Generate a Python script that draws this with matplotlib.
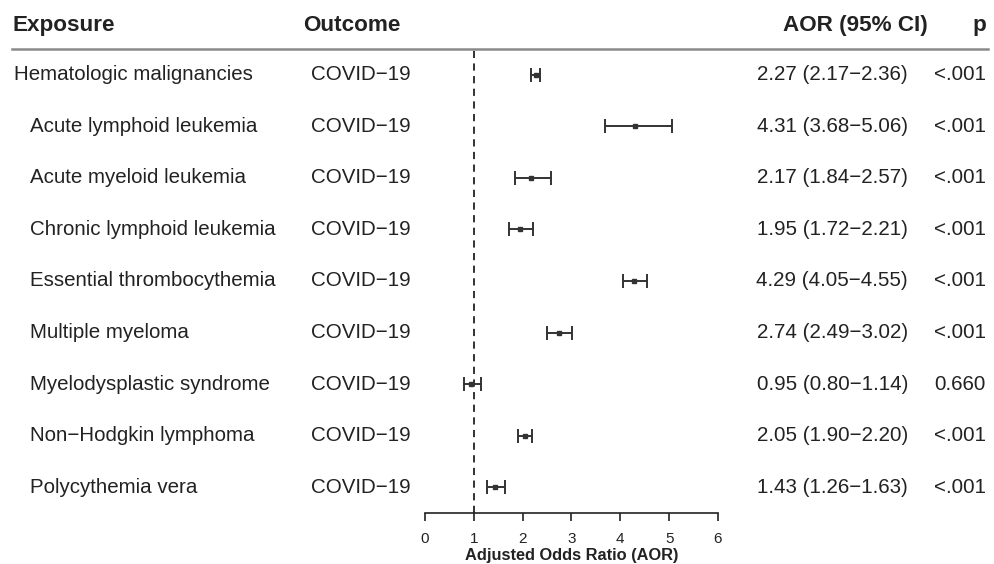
import matplotlib
matplotlib.use("Agg")
import matplotlib.pyplot as plt
from matplotlib.transforms import blended_transform_factory
from matplotlib.lines import Line2D

exposures = ["Hematologic malignancies", "Acute lymphoid leukemia", "Acute myeloid leukemia",
             "Chronic lymphoid leukemia", "Essential thrombocythemia", "Multiple myeloma",
             "Myelodysplastic syndrome", "Non\u2212Hodgkin lymphoma", "Polycythemia vera"]
outcomes = ["COVID\u221219"] * 9
aor = [2.27, 4.31, 2.17, 1.95, 4.29, 2.74, 0.95, 2.05, 1.43]
lower = [2.17, 3.68, 1.84, 1.72, 4.05, 2.49, 0.80, 1.90, 1.26]
upper = [2.36, 5.06, 2.57, 2.21, 4.55, 3.02, 1.14, 2.20, 1.63]
pvals = ["<.001", "<.001", "<.001", "<.001", "<.001", "<.001", "0.660", "<.001", "<.001"]
xticks = [0, 1, 2, 3, 4, 5, 6]

plt.rcParams['font.family'] = ['Liberation Sans', 'DejaVu Sans']
W, H = 995, 564
fig = plt.figure(figsize=(W / 100, H / 100), dpi=100)

def fx(px):
    return px / W

def fy(py):
    return 1 - py / H

top_px, bot_px = 49, 513
ax = fig.add_axes([fx(425), fy(bot_px), fx(718) - fx(425), (bot_px - top_px) / H])
n = len(aor)
ys = list(range(n))
ax.set_xlim(0, 6)
ax.set_ylim(n - 0.5, -0.5)
for s in ["top", "right", "left"]:
    ax.spines[s].set_visible(False)
ax.spines["bottom"].set_color("#222222")
ax.spines["bottom"].set_linewidth(1.2)
ax.set_yticks([])
ax.set_xticks(xticks)
ax.tick_params(axis="x", length=6, width=1.2, color="#222222", labelsize=11, labelcolor="#222222", pad=8)
ax.set_xlabel("Adjusted Odds Ratio (AOR)", fontsize=11.8, fontweight="bold", color="#222222", labelpad=1)

ax.axvline(1, color="#222222", linestyle=(0, (4, 3)), linewidth=1.3, clip_on=False)

xerr = [[a - l for a, l in zip(aor, lower)], [u - a for a, u in zip(aor, upper)]]
ax.errorbar(aor, ys, xerr=xerr, fmt="s", color="#333333", ecolor="#333333", markersize=3.2,
            elinewidth=1.4, capsize=5, capthick=1.4, clip_on=False)

tr = blended_transform_factory(fig.transFigure, ax.transData)
tc = "#222222"
for i in range(n):
    x0 = 14 if i == 0 else 30
    ax.text(fx(x0), i, exposures[i], transform=tr, fontsize=14.8, color=tc, va="center", ha="left", clip_on=False)
    ax.text(fx(311), i, outcomes[i], transform=tr, fontsize=14.8, color=tc, va="center", ha="left", clip_on=False)
    ci = f"{aor[i]:.2f} ({lower[i]:.2f}\u2212{upper[i]:.2f})"
    ax.text(fx(908), i, ci, transform=tr, fontsize=14.8, color=tc, va="center", ha="right", clip_on=False)
    ax.text(fx(986), i, pvals[i], transform=tr, fontsize=14.8, color=tc, va="center", ha="right", clip_on=False)

hy = fy(31)
fig.text(fx(13), hy, "Exposure", fontsize=16.2, fontweight="bold", color=tc, va="baseline", ha="left")
fig.text(fx(303), hy, "Outcome", fontsize=16.2, fontweight="bold", color=tc, va="baseline", ha="left")
fig.text(fx(928), hy, "AOR (95% CI)", fontsize=16.2, fontweight="bold", color=tc, va="baseline", ha="right")
fig.text(fx(986), hy, "p", fontsize=16.2, fontweight="bold", color=tc, va="baseline", ha="right")

fig.add_artist(Line2D([fx(12), fx(988)], [fy(49), fy(49)], color="#8a8a8a", linewidth=1.8,
                      transform=fig.transFigure))

fig.savefig("out.png", dpi=100, facecolor="white")
